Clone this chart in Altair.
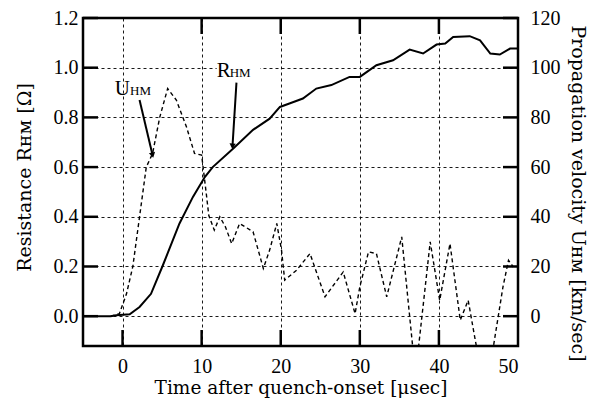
import altair as alt
import pandas as pd

# ---- data ----
t_R = [-5, -1.5, -0.8, 0.9, 2.15, 3.6, 5.1, 7.2, 8.9, 10.4, 11.4, 14.0, 16.5, 18.6,
       19.9, 21.1, 22.8, 24.5, 26.4, 28.7, 30.0, 32.1, 34.2, 36.3, 38.0, 39.7, 40.8,
       41.8, 43.9, 45.2, 46.5, 47.7, 49.0, 50.0]
R_HM = [0.0, 0.0, 0.004, 0.008, 0.037, 0.09, 0.205, 0.373, 0.48, 0.56, 0.60, 0.675,
        0.75, 0.795, 0.842, 0.856, 0.876, 0.916, 0.93, 0.963, 0.963, 1.01, 1.03, 1.073,
        1.057, 1.093, 1.097, 1.124, 1.127, 1.11, 1.057, 1.053, 1.077, 1.077]

t_U = [-1.5, -0.4, 0.5, 1.3, 2.15, 3.0, 3.8, 4.7, 5.7, 6.8, 8.1, 9.1, 10.0, 10.6,
       10.9, 11.6, 12.3, 13.0, 13.8, 14.8, 16.5, 17.8, 18.6, 19.5, 20.1, 20.5, 22.0,
       23.7, 25.6, 27.9, 29.4, 30.0, 31.1, 32.1, 33.4, 35.3, 36.8, 37.3, 38.9, 40.1,
       41.4, 42.7, 43.7, 44.6, 45.2, 46.5, 46.9, 48.1, 48.8, 49.4]
U_HM = [0.0, 1.0, 9.0, 20.0, 40.0, 60.0, 65.5, 80.0, 91.6, 87.0, 76.0, 65.5, 64.8, 49.0,
        40.6, 34.6, 40.0, 36.0, 29.2, 37.3, 34.0, 19.2, 26.6, 37.3, 26.6, 14.5, 18.5,
        25.2, 7.8, 17.8, 1.0, 11.8, 25.9, 25.2, 7.8, 31.9, -16.0, -16.0, 29.9, 6.4,
        29.2, -1.6, 6.4, -9.7, -20.0, -20.0, -12.0, 11.8, 22.5, 19.8]

x_ticks_bottom = [0, 10, 20, 30, 40]
x_ticks_top = [10, 20, 30, 40]
x_labels = [0, 10, 20, 30, 40, 50]
y_ticks = [0.0, 0.2, 0.4, 0.6, 0.8, 1.0, 1.2]
u_ticks = [0, 20, 40, 60, 80, 100, 120]

# annotation labels (main letter, subscript) and pointer lines
lab_main = ["U", "R"]
lab_sub = ["HM", "HM"]
lab_x = [-1.0, 11.9]
lab_sub_x = [0.95, 13.55]
lab_y = [0.89, 0.962]
ptr_x = [2.15, 14.4]
ptr_y = [0.87, 0.94]
ptr_x2 = [3.8, 13.9]
ptr_y2 = [0.648, 0.684]
ptr_angle = [347, 4]

W, H = 435, 328
FONT = "Liberation Serif"
TFONT = "DejaVu Serif"

xs = alt.Scale(domain=[-5, 50], nice=False, zero=False)
ys = alt.Scale(domain=[-0.12, 1.2], nice=False, zero=False)
us = alt.Scale(domain=[-12, 120], nice=False, zero=False)

x_axis = alt.Axis(values=x_labels, title="Time after quench-onset [μsec]",
                  grid=True, gridDash=[3, 3], gridColor="black", gridOpacity=0.9,
                  tickSize=0, domain=False, labelPadding=10, titlePadding=2,
                  titleFontSize=18.5, format="d")
y_axis = alt.Axis(values=y_ticks, title="Resistance Rʜᴍ [Ω]", format=".1f",
                  grid=True, gridDash=[3, 3], gridColor="black", gridOpacity=0.9,
                  tickSize=0, domain=False, labelPadding=5, titlePadding=19,
                  titleY=159)

dR = pd.DataFrame({"t": t_R, "R": R_HM})
dU = pd.DataFrame({"t": t_U, "U": U_HM})
dxb = pd.DataFrame({"t": x_ticks_bottom})
dxt = pd.DataFrame({"t": x_ticks_top})
dyt = pd.DataFrame({"R": y_ticks})
dlab = pd.DataFrame({"main": lab_main, "sub": lab_sub, "x": lab_x, "xs": lab_sub_x, "y": lab_y})
dptr = pd.DataFrame({"x": ptr_x, "y": ptr_y, "x2": ptr_x2, "y2": ptr_y2, "a": ptr_angle})

X = lambda f: alt.X(f, type="quantitative", scale=xs, axis=x_axis)
Y = lambda f: alt.Y(f, type="quantitative", scale=ys, axis=y_axis)

r_line = alt.Chart(dR).mark_line(color="black", strokeWidth=2).encode(x=X("t"), y=Y("R"))

ytick_l = alt.Chart(dyt).mark_rule(color="black", strokeWidth=2.5).encode(
    y=Y("R"), x=alt.value(0), x2=alt.value(15))
ytick_r = alt.Chart(dyt).mark_rule(color="black", strokeWidth=2.5).encode(
    y=Y("R"), x=alt.value(W - 15), x2=alt.value(W))
xtick_b = alt.Chart(dxb).mark_rule(color="black", strokeWidth=2.5).encode(
    x=X("t"), y=alt.value(H - 16), y2=alt.value(H))
xtick_t = alt.Chart(dxt).mark_rule(color="black", strokeWidth=2.5).encode(
    x=X("t"), y=alt.value(0), y2=alt.value(16))

lab_bg = alt.Chart(dlab).transform_filter(alt.datum.main == "R").mark_rect(color="white").encode(
    x=X("x"), x2=alt.datum(17.4), y=Y("y"), y2=alt.datum(1.025))

lab_main_t = alt.Chart(dlab).mark_text(font=FONT, fontSize=21, align="left",
                                       baseline="alphabetic", color="black").encode(
    x=X("x"), y=Y("y"), text="main:N")
lab_sub_t = alt.Chart(dlab).mark_text(font=FONT, fontSize=13, align="left",
                                      baseline="alphabetic", color="black").encode(
    x=X("xs"), y=Y("y"), text="sub:N")

ptr = alt.Chart(dptr).mark_rule(color="black", strokeWidth=2).encode(
    x=X("x"), y=Y("y"), x2="x2:Q", y2="y2:Q")
ptr_head = alt.Chart(dptr).mark_point(shape="triangle-down", filled=True, color="black",
                                      size=40, opacity=1).encode(
    x=X("x2"), y=Y("y2"), angle=alt.Angle("a:Q", scale=None))

left_layer = alt.layer(r_line, ytick_l, ytick_r, xtick_b, xtick_t, lab_bg,
                       lab_main_t, lab_sub_t, ptr, ptr_head)

u_line = alt.Chart(dU).mark_line(color="black", strokeWidth=1.4, strokeDash=[4, 3],
                                 clip=True).encode(
    x=X("t"),
    y=alt.Y("U:Q", scale=us,
            axis=alt.Axis(orient="right", values=u_ticks,
                          title="Propagation velocity Uʜᴍ [km/sec]",
                          grid=False, tickSize=0, domain=False, labelPadding=12,
                          titlePadding=7, titleY=175, format="d")),
)

chart = alt.layer(left_layer, u_line).resolve_scale(y="independent").properties(
    width=W, height=H,
    autosize=alt.AutoSizeParams(type="none"),
    padding={"left": 75, "top": 10, "right": 73, "bottom": 52},
).configure_view(stroke="black", strokeWidth=2.5).configure_axis(
    labelFont=FONT, labelFontSize=20, labelColor="black",
    titleFont=TFONT, titleFontSize=19, titleFontWeight="normal", titleColor="black",
)

chart.save("out.html", embed_options={"renderer": "svg", "actions": False})
